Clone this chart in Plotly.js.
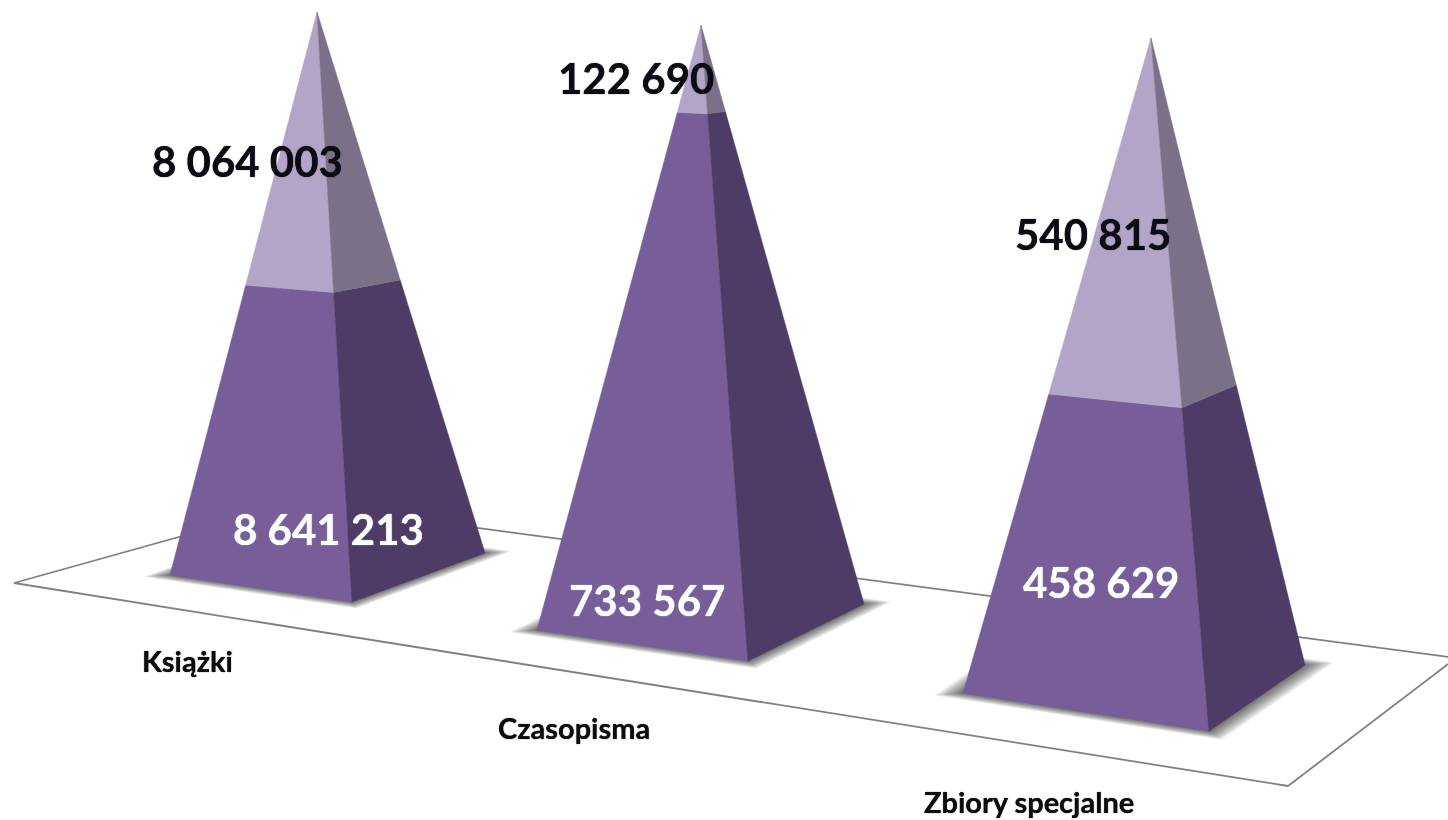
<!DOCTYPE html>
<html lang="pl">
<head>
<meta charset="utf-8">
<script src="https://cdn.plot.ly/plotly-3.0.1.min.js"></script>
<style>
html,body{margin:0;padding:0;background:#fff;overflow:hidden}
#chart{width:1448px;height:820px;filter:blur(0.7px)}
</style>
</head>
<body>
<div id="chart"></div>
<script>
// Data
const categories = ['Książki', 'Czasopisma', 'Zbiory specjalne'];
const lowerValues = [8641213, 733567, 458629];
const upperValues = [8064003, 122690, 540815];

// Colours
const lowerLeftColor = '#775E99';
const lowerRightColor = '#4F3C66';
const upperLeftColor = '#B3A5C8';
const upperRightColor = '#7A7088';

// The 3D frame: projected corners of each 100% pyramid, in axis units
const apexes = [[317, 12], [701, 25], [1151, 38]];
const baseLeft = [[170, 575], [537, 630], [963, 693]];
const baseFront = [[352, 602], [748, 661], [1209, 731]];
const baseRight = [[485, 553], [864, 604], [1305, 665]];
const floorCorners = [[14, 583], [1288, 786], [1456, 658], [297, 504], [14, 583]];
// Perspective foreshortening of the stacked share along each edge
const edgePerspective = {left: -0.01, front: 0.03, right: -0.05};

// Label anchors
const lowerLabelPos = [[328, 529], [647, 600], [1101, 582]];
const upperLabelPos = [[247, 161], [636, 78], [1093, 234]];
const categoryLabelPos = [[187, 660], [574, 727], [1029, 801]];

const fmt = v => String(v).replace(/\B(?=(\d{3})+(?!\d))/g, ' ');
const lerp = (a, b, t) => [a[0] + (b[0] - a[0]) * t, a[1] + (b[1] - a[1]) * t];
const persp = (t, k) => t + k * t * (1 - t);

function poly(pts, color, name) {
  const closed = pts.concat([pts[0]]);
  return {
    type: 'scatter', mode: 'lines', fill: 'toself', fillcolor: color,
    x: closed.map(p => p[0]), y: closed.map(p => p[1]),
    line: {width: 0.5, color: color}, hoverinfo: 'name', name: name
  };
}
function shadowLayer(pts, color) {
  const closed = pts.concat([pts[0]]);
  return {
    type: 'scatter', mode: 'lines', fill: 'toself', fillcolor: color,
    x: closed.map(p => p[0]), y: closed.map(p => p[1]),
    line: {width: 0}, hoverinfo: 'skip'
  };
}

const traces = [];

// Floor plane
traces.push({
  type: 'scatter', mode: 'lines',
  x: floorCorners.map(p => p[0]), y: floorCorners.map(p => p[1]),
  line: {color: '#808080', width: 1.8}, hoverinfo: 'skip'
});

categories.forEach((cat, i) => {
  const A = apexes[i], L = baseLeft[i], F = baseFront[i], R = baseRight[i];
  const share = lowerValues[i] / (lowerValues[i] + upperValues[i]);

  // Soft contact shadow: many faint layers, denser near the base
  const back = [L[0] + R[0] - F[0], L[1] + R[1] - F[1]];
  const c = [(L[0] + R[0]) / 2, (L[1] + R[1]) / 2];
  const layers = 22;
  for (let k = layers; k >= 1; k--) {
    const s = 1 + 0.17 * Math.pow(k / layers, 1.25);
    const sc = p => [c[0] + (p[0] - c[0]) * s, c[1] + (p[1] - c[1]) * s];
    traces.push(shadowLayer([L, F, R, back].map(sc), 'rgba(60,60,60,0.05)'));
  }

  const mL = lerp(L, A, persp(share, edgePerspective.left));
  const mF = lerp(F, A, persp(share, edgePerspective.front));
  const mR = lerp(R, A, persp(share, edgePerspective.right));

  traces.push(poly([L, F, mF, mL], lowerLeftColor, cat + ': ' + fmt(lowerValues[i])));
  traces.push(poly([F, R, mR, mF], lowerRightColor, cat + ': ' + fmt(lowerValues[i])));
  traces.push(poly([mL, mF, A], upperLeftColor, cat + ': ' + fmt(upperValues[i])));
  traces.push(poly([mF, mR, A], upperRightColor, cat + ': ' + fmt(upperValues[i])));
});

const annotations = [];
const note = (p, text, size, color, shadow) => annotations.push({
  x: p[0], y: p[1], xref: 'x', yref: 'y', text: '<b>' + text + '</b>', showarrow: false,
  xanchor: 'center', yanchor: 'middle',
  font: {family: 'Lato, "Open Sans", sans-serif', size: size, color: color, shadow: shadow || 'none'}
});
categories.forEach((cat, i) => {
  note(lowerLabelPos[i], fmt(lowerValues[i]), 42, '#ffffff', '0 0 1px #ffffff');
  note(upperLabelPos[i], fmt(upperValues[i]), 42, '#0b0b14', '0 0 1px #0b0b14');
  note(categoryLabelPos[i], cat, 29, '#0c0c10', '0 0 1px #0c0c10');
});

Plotly.newPlot('chart', traces, {
  width: 1448, height: 820,
  margin: {l: 0, r: 0, t: 0, b: 0},
  showlegend: false,
  paper_bgcolor: '#ffffff', plot_bgcolor: '#ffffff',
  xaxis: {range: [0, 1448], visible: false, fixedrange: true},
  yaxis: {range: [820, 0], visible: false, fixedrange: true},
  annotations: annotations
}, {displayModeBar: false});
</script>
</body>
</html>
